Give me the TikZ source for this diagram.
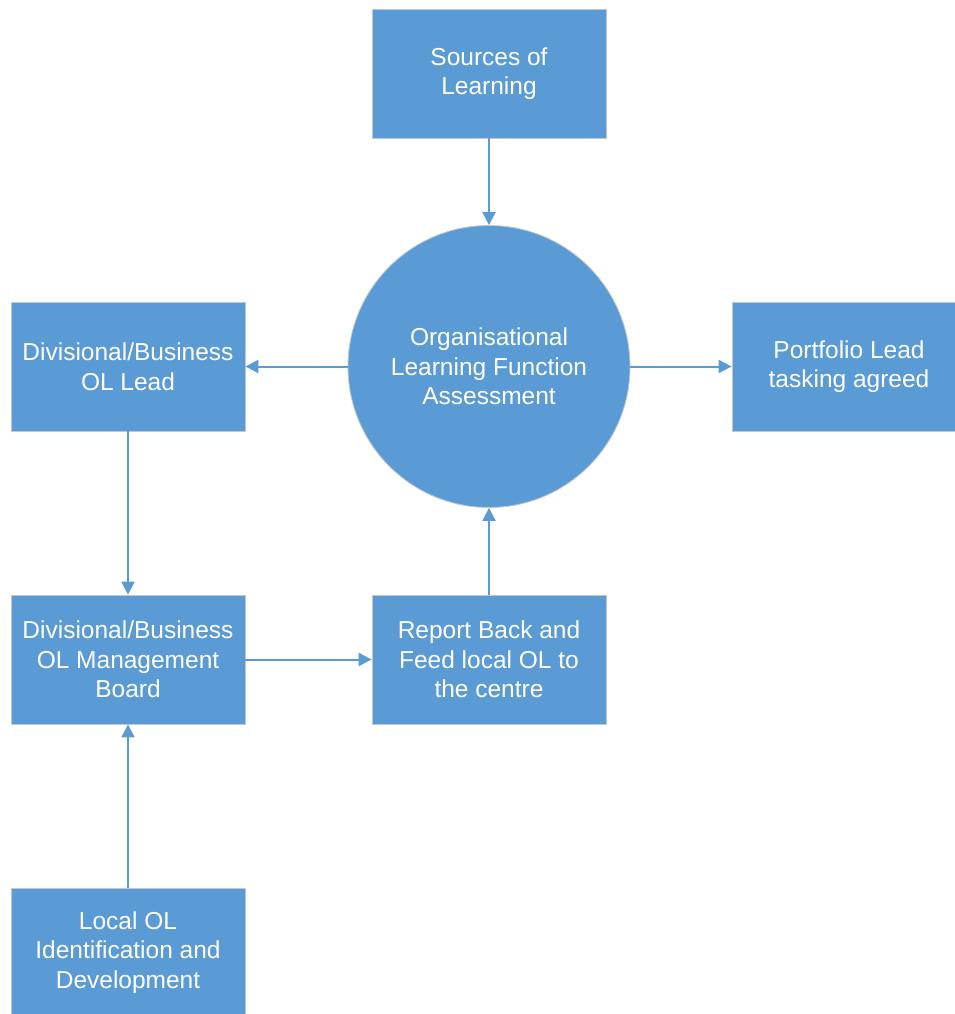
\documentclass[tikz,border=0pt]{standalone}
\usepackage{fontspec}
\setmainfont{Liberation Sans}
\newfontfamily\arialish{Liberation Sans}
\usetikzlibrary{arrows.meta}
\definecolor{boxblue}{HTML}{5B9BD5}
\definecolor{boxedge}{HTML}{BFC7D0}
\tikzset{
  box/.style={rectangle, fill=boxblue, draw=boxedge, line width=0.8pt,
    minimum width=234pt, minimum height=129pt, inner sep=0pt,
    text=white, align=center, font=\arialish\fontsize{24.5}{29.5}\selectfont},
  circ/.style={circle, fill=boxblue, draw=boxedge, line width=0.8pt,
    minimum size=282pt, inner sep=0pt,
    text=white, align=center, font=\arialish\fontsize{24.5}{29.5}\selectfont},
  conn/.style={draw=boxblue, line width=2pt, -{Triangle[length=13pt,width=13pt]}}
}
\begin{document}
\begin{tikzpicture}[x=1pt,y=-1pt]
\useasboundingbox (0,0) rectangle (955,1014);
\clip (0,0) rectangle (955,1014);
\fill[white] (0,0) rectangle (955,1014);
\node[box] (src) at (489,73.5) {Sources of\\Learning};
\node[circ] (olf) at (489,366.5) {Organisational\\Learning Function\\Assessment};
\node[box] (div) at (128,366.5) {Divisional/Business\\OL Lead};
\node[box] (port) at (849,366.5) {Portfolio Lead\\tasking agreed};
\node[box] (mgmt) at (128,659.5) {Divisional/Business\\OL Management\\Board};
\node[box] (rep) at (489,659.5) {Report Back and\\Feed local OL to\\the centre};
\node[box] (loc) at (128,952.5) {Local OL\\Identification and\\Development};
\draw[conn] (src) -- (olf);
\draw[conn] (olf) -- (div);
\draw[conn] (olf) -- (port);
\draw[conn] (div) -- (mgmt);
\draw[conn] (mgmt) -- (rep);
\draw[conn] (rep) -- (olf);
\draw[conn] (loc) -- (mgmt);
\end{tikzpicture}
\end{document}
